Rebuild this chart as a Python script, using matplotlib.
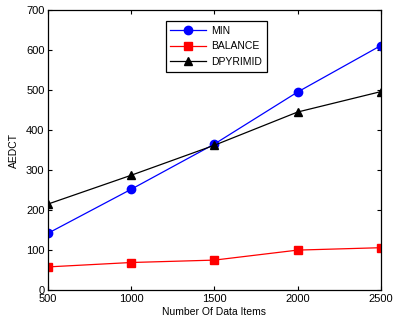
import matplotlib
matplotlib.use("Agg")
import matplotlib.pyplot as plt

plt.rcParams['font.family'] = ['Liberation Sans', 'DejaVu Sans']

# Datos
items = [500, 1000, 1500, 2000, 2500]
min_vals = [142, 252, 365, 495, 611]
balance_vals = [58, 69, 75, 100, 106]
dpyrimid_vals = [215, 287, 362, 445, 496]

fig = plt.figure(figsize=(3.93, 3.22), dpi=100)
ax = fig.add_axes([0.122, 0.099, 0.847, 0.870])

ax.plot(items, min_vals, "-o", color="blue", lw=0.9, ms=6, label="MIN")
ax.plot(items, balance_vals, "-s", color="red", lw=0.9, ms=5.5, label="BALANCE")
ax.plot(items, dpyrimid_vals, "-^", color="black", lw=0.9, ms=6, label="DPYRIMID")

ax.set_xlim(500, 2500)
ax.set_ylim(0, 700)
ax.set_xticks(items)
ax.set_yticks(range(0, 701, 100))
ax.tick_params(direction="in", top=True, right=True, labelsize=8, length=3, pad=2.5)
for s in ax.spines.values():
    s.set_linewidth(0.9)

ax.set_xlabel("Number Of Data Items", fontsize=7.5, labelpad=2.5)
ax.set_ylabel("AEDCT", fontsize=7.5, labelpad=5)

leg = ax.legend(loc="upper left", bbox_to_anchor=(0.354, 0.961), borderaxespad=0,
                fontsize=7.5, fancybox=False, framealpha=1, edgecolor="black",
                handlelength=3.4, borderpad=0.45, labelspacing=0.55,
                handletextpad=0.5)
leg.get_frame().set_linewidth(0.9)

fig.savefig("out.png", dpi=100)
